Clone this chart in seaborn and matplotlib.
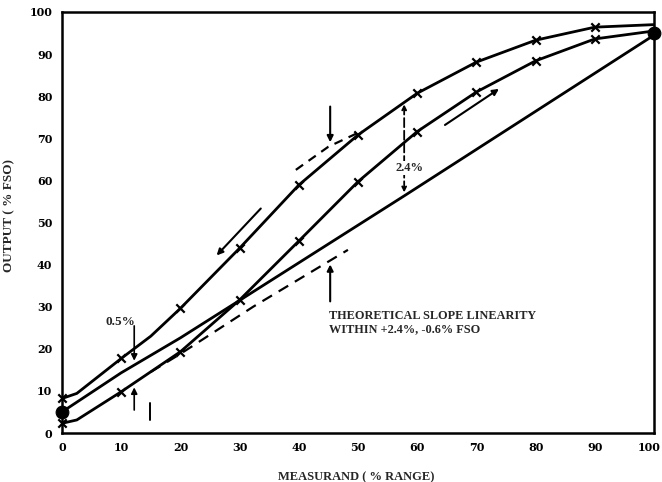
import matplotlib
matplotlib.use("Agg")
import matplotlib.pyplot as plt
import matplotlib.transforms as mtransforms
import seaborn as sns
import pandas as pd

# ---- data ----
down_x = [0, 2.5, 10, 15, 20, 30, 40, 50, 60, 70, 80, 90, 100]
down_y = [8.2, 9.4, 17.7, 23.0, 29.6, 43.9, 58.9, 70.8, 80.7, 88.1, 93.3, 96.4, 97.0]
down_mark_x = [0, 10, 20, 30, 40, 50, 60, 70, 80, 90]
down_mark_y = [8.2, 17.7, 29.6, 43.9, 58.9, 70.8, 80.7, 88.1, 93.3, 96.4]

up_x = [0, 2.5, 10, 20, 30, 40, 50, 60, 70, 80, 90, 100]
up_y = [2.3, 3.1, 9.8, 19.3, 31.6, 45.6, 59.7, 71.6, 81.0, 88.4, 93.6, 95.5]
up_mark_x = [0, 10, 20, 30, 40, 50, 60, 70, 80, 90]
up_mark_y = [2.3, 9.8, 19.3, 31.6, 45.6, 59.7, 71.6, 81.0, 88.4, 93.6]

slope_x = [0, 10, 20, 30, 58, 100]
slope_y = [5.0, 14.3, 22.6, 31.5, 56.5, 94.5]

end_x = [0, 100]
end_y = [5.0, 95.0]

dash_hi_x = [39.5, 45, 50]
dash_hi_y = [62.5, 68.0, 71.3]
dash_lo_x = [15, 20, 32.3, 48.3]
dash_lo_y = [14.5, 18.8, 30.0, 43.5]

ticks = [0, 10, 20, 30, 40, 50, 60, 70, 80, 90, 100]
tick_labels = [str(t) for t in ticks]

x_label = "MEASURAND ( % RANGE)"
y_label = "OUTPUT ( % FSO)"
note_text = "THEORETICAL SLOPE LINEARITY\nWITHIN +2.4%, -0.6% FSO"

# ---- figure ----
sns.set_theme(style="white")
plt.rcParams["font.family"] = ["Liberation Serif", "DejaVu Serif"]

fig = plt.figure(figsize=(6.62, 4.82), dpi=100)
ax = fig.add_axes([62 / 662, 1 - 433 / 482, (654 - 62) / 662, (433 - 12) / 482])

lw = 2.0
def curve(x, y, **kw):
    df = pd.DataFrame({"x": x, "y": y})
    sns.lineplot(data=df, x="x", y="y", ax=ax, sort=False, estimator=None,
                 color="black", lw=kw.pop("lw", lw), **kw)

curve(down_x, down_y)
curve(up_x, up_y)
curve(slope_x, slope_y)
curve(dash_hi_x, dash_hi_y, lw=1.6, linestyle=(0, (4, 3)))
curve(dash_lo_x, dash_lo_y, lw=1.6, linestyle=(0, (5, 3.5)))

sns.scatterplot(x=down_mark_x, y=down_mark_y, ax=ax, marker="x", s=36,
                color="black", linewidth=1.6, clip_on=False)
sns.scatterplot(x=up_mark_x, y=up_mark_y, ax=ax, marker="x", s=36,
                color="black", linewidth=1.6, clip_on=False)
sns.scatterplot(x=end_x, y=end_y, ax=ax, s=85, color="black",
                edgecolor="black", zorder=5, clip_on=False)

ap = dict(arrowstyle="-|>", color="black", lw=1.5, mutation_scale=9)
# downward arrow at 45
ax.annotate("", xy=(45.3, 68.4), xytext=(45.3, 78.2), arrowprops=ap)
# pointer to the dashed line
ax.annotate("", xy=(45.3, 40.7), xytext=(45.3, 30.6), arrowprops=ap)
# direction arrows
ax.annotate("", xy=(25.8, 41.7), xytext=(33.9, 53.8), arrowprops=ap)
ax.annotate("", xy=(74.2, 82.1), xytext=(64.3, 72.8), arrowprops=ap)
# 2.4 % dimension
ax.annotate("", xy=(57.8, 78.7), xytext=(57.8, 56.5),
            arrowprops=dict(arrowstyle="<|-|>", color="black", lw=1.3,
                            linestyle=(0, (5, 2)), mutation_scale=7))
ax.text(58.7, 62.9, "2.4%", ha="center", va="center", fontsize=9,
        fontweight="bold", bbox=dict(fc="white", ec="none", pad=0.5))
# 0.5 % dimension
ax.annotate("", xy=(12.2, 16.5), xytext=(12.2, 26.1), arrowprops=dict(ap, lw=1.2))
ax.annotate("", xy=(12.2, 11.5), xytext=(12.2, 4.8), arrowprops=dict(ap, lw=1.2))
ax.text(12.4, 26.4, "0.5%", ha="right", va="center", fontsize=9.5, fontweight="bold")
ax.plot([14.9, 14.9], [3.1, 7.1], color="black", lw=1.4)

ax.text(45.1, 26.2, note_text, ha="left", va="center", fontsize=8.8,
        fontweight="bold", linespacing=1.05)

# axes styling
ax.set_xlim(0, 100)
ax.set_ylim(0, 100)
ax.set_xticks(ticks)
ax.set_xticklabels(tick_labels)
ax.set_yticks(ticks)
ax.set_yticklabels(tick_labels)
ax.tick_params(axis="both", direction="in", length=11, width=1.5,
               colors="black", labelsize=8, top=False, right=False)
ax.tick_params(axis="x", pad=6.5)
ax.tick_params(axis="y", pad=7)
for lab in ax.get_xticklabels() + ax.get_yticklabels():
    lab.set_fontweight("bold")
    lab.set_family(["DejaVu Serif"])
# keep the last x label inside the canvas (as in the reference)
last = ax.get_xticklabels()[-1]
last.set_horizontalalignment("right")
last.set_transform(last.get_transform() +
                   mtransforms.ScaledTranslation(7 / 100, 0, fig.dpi_scale_trans))
for sp in ax.spines.values():
    sp.set_visible(True)
    sp.set_color("black")
    sp.set_linewidth(1.8)
ax.grid(False)
ax.set_xlabel(x_label, fontsize=9, fontweight="bold")
ax.set_ylabel(y_label, fontsize=9.5, fontweight="bold")
ax.xaxis.set_label_coords((356 - 62) / 592, -(471 - 433) / 421)
ax.yaxis.set_label_coords(-(62 - 15) / 592, (433 - 216) / 421)

fig.savefig("out.png", dpi=100)
